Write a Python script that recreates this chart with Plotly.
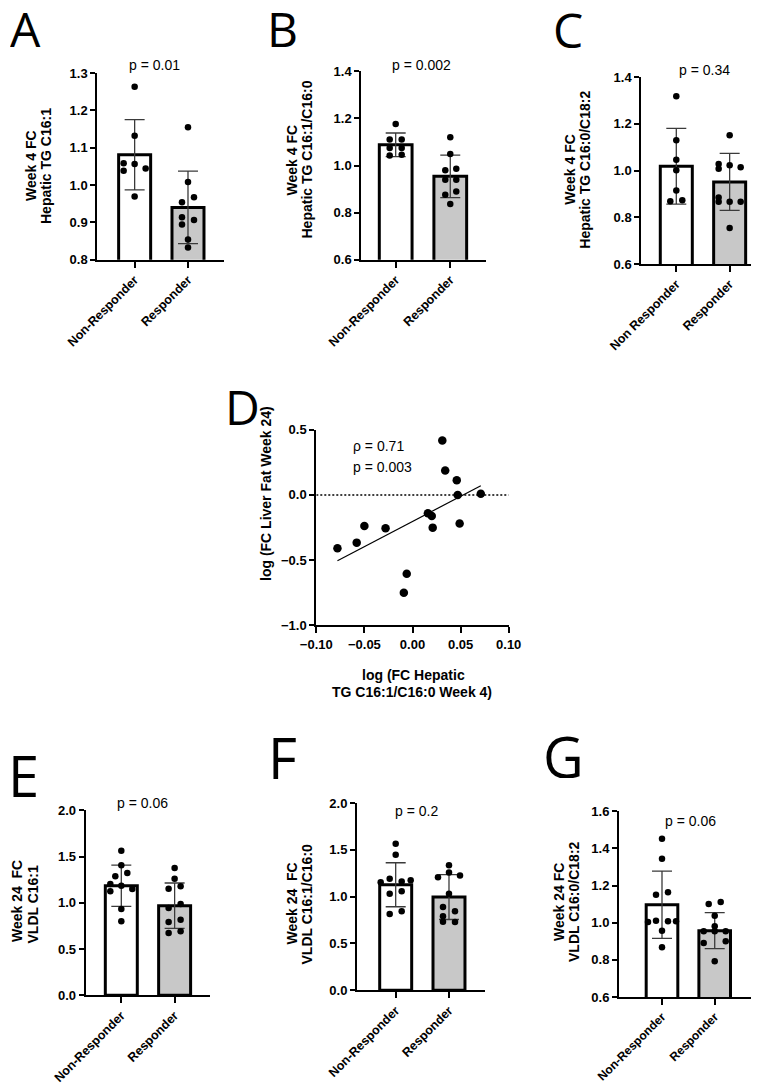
import plotly.graph_objects as go

W, H = 759, 1084

# ---------------- DATA ----------------
CATS = ["Non-Responder", "Responder"]
CATS_C = ["Non Responder", "Responder"]

# Panel A: Week 4 FC Hepatic TG C16:1
A_NR = [1.263, 1.132, 1.058, 1.056, 1.038, 1.044, 0.969]
A_R = [1.155, 1.008, 0.954, 0.967, 0.914, 0.906, 0.894, 0.854, 0.833]
A_MEAN = [1.081, 0.940]
A_SD = [0.094, 0.097]
A_P = "p = 0.01"

# Panel B: Week 4 FC Hepatic TG C16:1/C16:0
B_NR = [1.176, 1.110, 1.110, 1.074, 1.074, 1.042, 1.046]
B_R = [1.120, 1.049, 0.980, 0.986, 0.940, 0.940, 0.876, 0.890, 0.837]
B_MEAN = [1.088, 0.954]
B_SD = [0.050, 0.090]
B_P = "p = 0.002"

# Panel C: Week 4 FC Hepatic TG C16:0/C18:2
C_NR = [1.318, 1.129, 1.046, 1.001, 0.914, 0.868, 0.873]
C_R = [1.151, 1.028, 1.008, 1.022, 1.014, 0.885, 0.866, 0.866, 0.866, 0.754]
C_MEAN = [1.018, 0.951]
C_SD = [0.162, 0.122]
C_P = "p = 0.34"

# Panel D: correlation
D_X = [-0.078, -0.058, -0.050, -0.028, -0.006, -0.009, 0.016, 0.020, 0.021,
       0.031, 0.034, 0.046, 0.047, 0.049, 0.071]
D_Y = [-0.410, -0.366, -0.238, -0.256, -0.605, -0.751, -0.141, -0.161, -0.251,
       0.418, 0.187, 0.113, 0.000, -0.220, 0.008]
D_FIT_SLOPE = 3.86
D_FIT_INTERCEPT = -0.204
D_RHO = "\u03c1 = 0.71"
D_P = "p = 0.003"

# Panel E: Week 24 FC VLDL C16:1
E_NR = [1.563, 1.405, 1.286, 1.322, 1.203, 1.185, 1.124, 1.149, 0.933, 0.800]
E_R = [1.376, 1.260, 1.153, 1.178, 0.987, 0.944, 0.792, 0.818, 0.674, 0.692]
E_MEAN = [1.185, 0.969]
E_SD = [0.223, 0.245]
E_P = "p = 0.06"

# Panel F: Week 24 FC VLDL C16:1/C16:0
F_NR = [1.565, 1.447, 1.191, 1.163, 1.153, 1.174, 1.031, 1.057, 0.814, 0.843]
F_R = [1.334, 1.259, 1.206, 1.227, 1.031, 0.889, 0.843, 0.790, 0.733, 0.729]
F_MEAN = [1.127, 0.996]
F_SD = [0.235, 0.240]
F_P = "p = 0.2"

# Panel G: Week 24 FC VLDL C16:0/C18:2
G_NR = [1.452, 1.345, 1.151, 1.164, 1.004, 1.011, 1.008, 1.008, 0.957, 0.868]
G_R = [1.101, 1.112, 1.038, 0.981, 0.954, 0.954, 0.954, 0.891, 0.900, 0.792]
G_MEAN = [1.097, 0.957]
G_SD = [0.181, 0.097]
G_P = "p = 0.06"

# ---------------- LAYOUT / STYLE (positions in px) ----------------
# horizontal scatter spreading of dots (px)
JIT = {
    "A": ([0, 0, -11, 0, -11, 11, 0], [0, 0, -6, 6, -6, 6, -6, 0, 0]),
    "B": ([0, -6, 6, -6, 6, -6, 6], [0, 0, -5, 6, -5, 6, -5, 6, 0]),
    "C": ([0, 0, 0, 0, 0, -6, 6], [0, -11, -11, 0, 11, -11, -11, 0, 11, 0]),
    "E": ([0, 0, -6, 6, -11, 0, -11, 11, 0, 0], [0, 0, -6, 6, 6, -6, -6, 6, -6, 6]),
    "F": ([0, 0, -6, 6, -15, 15, -6, 6, -6, 6], [0, 0, -11, 11, 0, -6, 6, -6, -6, 6]),
    "G": ([0, 0, -6, 6, -14, -6, 6, 14, 0, 0], [-6, 6, 0, 0, -11, 0, 11, -11, 11, 0]),
}

# x0, x1, ytop, ybottom (px), y-range, dtick, x-range, category label size
SPEC = {
    "A": dict(px=(89.3, 216.0, 65.0, 251.7), yr=(0.8, 1.3), dt=0.1, xr=(-0.70, 1.675), cs=12.5),
    "B": dict(px=(353.3, 478.3, 63.3, 251.7), yr=(0.6, 1.4), dt=0.2, xr=(-0.63, 1.66), cs=12.5),
    "C": dict(px=(633.3, 759.0, 69.0, 256.0), yr=(0.6, 1.4), dt=0.2, xr=(-0.656, 1.70), cs=12.5),
    "E": dict(px=(77.7, 201.7, 802.3, 987.3), yr=(0.0, 2.0), dt=0.5, xr=(-0.668, 1.658), cs=12.5),
    "F": dict(px=(349.0, 476.7, 795.0, 982.3), yr=(0.0, 2.0), dt=0.5, xr=(-0.726, 1.67), cs=12.5),
    "G": dict(px=(611.0, 742.7, 803.3, 989.0), yr=(0.6, 1.6), dt=0.2, xr=(-0.816, 1.683), cs=12.0),
}
D_SPEC = dict(px=(308.3, 500.7, 421.7, 617.3), yr=(-1.0, 0.5), xr=(-0.10, 0.10))

TICKFONT = dict(family="Liberation Sans, Arial", size=13, color="black", weight="bold")
PFONT = dict(family="Liberation Sans, Arial", size=14, color="black")
TITLEFONT = dict(family="Liberation Sans, Arial", size=14, color="black", weight="bold")
LETTERFONT = dict(family="Open Sans", color="black")
GREY = "#c8c8c8"


def fx(px):
    return px / W


def fy(py):
    return 1 - py / H


fig = go.Figure()
layout = dict(width=W, height=H, margin=dict(l=0, r=0, t=0, b=0, autoexpand=False),
              paper_bgcolor="white", plot_bgcolor="white", showlegend=False,
              annotations=[], shapes=[])


def axis_common():
    return dict(showline=True, linecolor="black", linewidth=2, ticks="outside",
                tickwidth=2, tickcolor="black", showgrid=False, zeroline=False,
                tickfont=TICKFONT, fixedrange=True, automargin=False)


def bar_panel(idx, key, nr, r, means, sds, cats):
    s = SPEC[key]
    x0, x1, yt, yb = s["px"]
    spacing = (x1 - x0) / (s["xr"][1] - s["xr"][0])
    xa, ya = f"x{idx}", f"y{idx}"
    fig.add_trace(go.Bar(
        x=[0, 1], y=means, width=0.6, xaxis=xa, yaxis=ya,
        marker=dict(color=["white", GREY], line=dict(color="black", width=3)),
        error_y=dict(type="data", array=sds, visible=True, color="#3a3a3a",
                     thickness=1.3, width=10)))
    jn, jr = JIT[key]
    fig.add_trace(go.Scatter(
        x=[j / spacing for j in jn] + [1 + j / spacing for j in jr],
        y=nr + r, mode="markers", xaxis=xa, yaxis=ya, cliponaxis=False,
        marker=dict(color="black", size=6.5)))
    ax = axis_common()
    ax.update(domain=[fx(x0), fx(x1)], range=list(s["xr"]), tickvals=[0, 1],
              ticktext=cats, tickangle=-45, ticklen=6, anchor=ya,
              tickfont=dict(TICKFONT, size=s["cs"]))
    ay = axis_common()
    ay.update(domain=[fy(yb), fy(yt)], range=list(s["yr"]), dtick=s["dt"],
              tick0=s["yr"][0], tickformat=".1f", ticklen=5, anchor=xa)
    layout[f"xaxis{idx}"] = ax
    layout[f"yaxis{idx}"] = ay


bar_panel(1, "A", A_NR, A_R, A_MEAN, A_SD, CATS)
bar_panel(2, "B", B_NR, B_R, B_MEAN, B_SD, CATS)
bar_panel(3, "C", C_NR, C_R, C_MEAN, C_SD, CATS_C)
bar_panel(5, "E", E_NR, E_R, E_MEAN, E_SD, CATS)
bar_panel(6, "F", F_NR, F_R, F_MEAN, F_SD, CATS)
bar_panel(7, "G", G_NR, G_R, G_MEAN, G_SD, CATS)

# Panel D
x0, x1, yt, yb = D_SPEC["px"]
fig.add_trace(go.Scatter(x=list(D_SPEC["xr"]), y=[0, 0], mode="lines", xaxis="x4", yaxis="y4",
                         line=dict(color="black", width=1.5, dash="2px,2px")))
fx_min, fx_max = min(D_X), max(D_X)
fig.add_trace(go.Scatter(x=[fx_min, fx_max],
                         y=[D_FIT_SLOPE * fx_min + D_FIT_INTERCEPT, D_FIT_SLOPE * fx_max + D_FIT_INTERCEPT],
                         mode="lines", xaxis="x4", yaxis="y4", line=dict(color="black", width=1.2)))
fig.add_trace(go.Scatter(x=D_X, y=D_Y, mode="markers", xaxis="x4", yaxis="y4", cliponaxis=False,
                         marker=dict(color="black", size=8.5)))
ax = axis_common()
ax.update(domain=[fx(x0), fx(x1)], range=list(D_SPEC["xr"]), dtick=0.05, tick0=-0.10,
          tickformat=".2f", ticklen=6, anchor="y4")
ay = axis_common()
ay.update(domain=[fy(yb), fy(yt)], range=list(D_SPEC["yr"]), dtick=0.5, tick0=-1.0,
          tickformat=".1f", ticklen=5, anchor="x4")
layout["xaxis4"] = ax
layout["yaxis4"] = ay

ann = layout["annotations"]


def text(x, y, t, font, angle=0, xanchor="center", height=None):
    a = dict(x=fx(x), y=fy(y), xref="paper", yref="paper", text=t, showarrow=False,
             font=font, textangle=angle, xanchor=xanchor, yanchor="middle")
    if height is not None:
        a["height"] = height
        a["valign"] = "middle"
    ann.append(a)


# p values
text(146.7, 56.7, A_P, PFONT)
text(413.3, 56.7, B_P, PFONT)
text(696.7, 61.7, C_P, PFONT)
text(134.0, 795.0, E_P, PFONT)
text(408.0, 803.3, F_P, PFONT)
text(682.0, 813.3, G_P, PFONT)
text(343.0, 438.0, D_RHO, PFONT, xanchor="left")
text(343.0, 459.0, D_P, PFONT, xanchor="left")

# y-axis titles (two lines each)
text(23.0, 158.0, "Week 4 FC", TITLEFONT, -90)
text(38.0, 158.0, "Hepatic TG C16:1", TITLEFONT, -90)
text(283.5, 152.0, "Week 4 FC", TITLEFONT, -90)
text(298.5, 152.0, "Hepatic TG C16:1/C16:0", TITLEFONT, -90)
text(562.0, 161.7, "Week 4 FC", TITLEFONT, -90)
text(577.0, 161.7, "Hepatic TG C16:0/C18:2", TITLEFONT, -90)
text(258.0, 486.0, "log (FC Liver Fat Week 24)", TITLEFONT, -90)
text(9.0, 893.0, "Week 24\u00a0 FC", TITLEFONT, -90)
text(24.5, 896.0, "VLDL C16:1", TITLEFONT, -90)
text(283.5, 896.0, "Week 24\u00a0 FC", TITLEFONT, -90)
text(298.5, 896.0, "VLDL C16:1/C16:0", TITLEFONT, -90)
text(551.0, 894.0, "Week 24 FC", TITLEFONT, -90)
text(566.0, 894.0, "VLDL C16:0/C18:2", TITLEFONT, -90)

# D x title
text(405.0, 666.7, "log (FC Hepatic", TITLEFONT)
text(404.0, 683.5, "TG C16:1/C16:0 Week 4)", TITLEFONT)

# panel letters (box height trimmed to the capital letter)
big = dict(LETTERFONT, size=48)
huge = dict(LETTERFONT, size=56)
text(17.0, 20.0, "A", big, height=38)
text(274.5, 20.0, "B", big, height=38)
text(560.0, 21.0, "C", big, height=38)
text(234.0, 398.0, "D", big, height=38)
text(15.0, 767.0, "E", huge, height=44)
text(274.0, 749.0, "F", huge, height=44)
text(555.0, 748.0, "G", huge, height=44)

fig.update_layout(**layout)
fig.write_html("out.html")
